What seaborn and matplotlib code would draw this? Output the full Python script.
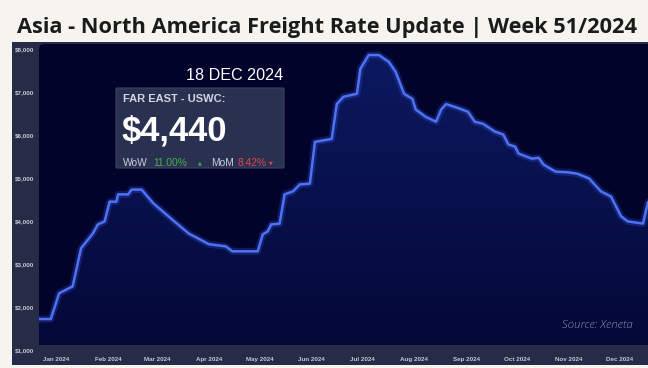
import numpy as np
import pandas as pd
import matplotlib
matplotlib.use("Agg")
import matplotlib.pyplot as plt
import matplotlib.dates as mdates
from matplotlib.patches import FancyBboxPatch, Rectangle
from matplotlib.colors import LinearSegmentedColormap
from matplotlib.transforms import IdentityTransform
import seaborn as sns

# ---------------- data ----------------
dates = ["2023-12-22", "2023-12-29", "2024-01-03", "2024-01-11", "2024-01-16",
         "2024-01-23", "2024-01-26", "2024-01-30", "2024-02-02", "2024-02-06",
         "2024-02-07", "2024-02-13", "2024-02-15", "2024-02-21", "2024-02-28",
         "2024-03-13", "2024-03-20", "2024-04-01", "2024-04-11", "2024-04-15",
         "2024-04-30", "2024-05-03", "2024-05-06", "2024-05-08", "2024-05-13",
         "2024-05-16", "2024-05-21", "2024-05-25", "2024-05-31", "2024-06-03",
         "2024-06-13", "2024-06-16", "2024-06-20", "2024-06-28", "2024-06-30",
         "2024-07-05", "2024-07-11", "2024-07-17", "2024-07-21", "2024-07-26",
         "2024-07-31", "2024-08-02", "2024-08-08", "2024-08-14", "2024-08-17",
         "2024-08-20", "2024-08-27", "2024-09-02", "2024-09-06", "2024-09-11",
         "2024-09-18", "2024-09-23", "2024-09-26", "2024-09-30", "2024-10-02",
         "2024-10-10", "2024-10-14", "2024-10-17", "2024-10-24", "2024-11-01",
         "2024-11-06", "2024-11-13", "2024-11-20", "2024-11-26", "2024-12-02",
         "2024-12-06", "2024-12-15", "2024-12-18"]
rates = [1720, 1720, 2320, 2480, 3365,
         3710, 3920, 3990, 4450, 4450,
         4620, 4620, 4730, 4730, 4410,
         3940, 3710, 3460, 3410, 3295,
         3295, 3690, 3760, 3920, 3940,
         4620, 4690, 4850, 4870, 5840,
         5910, 6720, 6890, 6960, 7540,
         7860, 7860, 7700, 7470, 6960,
         6840, 6590, 6420, 6310, 6590,
         6720, 6630, 6540, 6310, 6260,
         6080, 6010, 5780, 5730, 5570,
         5450, 5470, 5310, 5150, 5130,
         5100, 4990, 4690, 4570, 4110,
         3990, 3940, 4440]

month_ticks = list(pd.date_range("2024-01-01", "2024-12-01", freq="MS"))
month_labels = ["Jan 2024", "Feb 2024", "Mar 2024", "Apr 2024", "May 2024", "Jun 2024",
                "Jul 2024", "Aug 2024", "Sep 2024", "Oct 2024", "Nov 2024", "Dec 2024"]
y_ticks = [1000, 2000, 3000, 4000, 5000, 6000, 7000, 8000]
y_labels = ["$1,000", "$2,000", "$3,000", "$4,000", "$5,000", "$6,000", "$7,000", "$8,000"]

title = "Asia - North America Freight Rate Update | Week 51/2024"
route = "FAR EAST - USWC:"
latest_date = "18 DEC 2024"
latest_rate = "$4,440"
wow_label, wow_value = "WoW", "11.00%"
mom_label, mom_value = "MoM", "8.42%"
source = "Source: Xeneta"

df = pd.DataFrame({"date": pd.to_datetime(dates), "rate": rates})

# ---------------- figure ----------------
W, H = 648, 368
sns.set_style("dark")
plt.rcParams['font.family'] = ['Liberation Sans', 'DejaVu Sans']
fig = plt.figure(figsize=(W / 100, H / 100), dpi=100)
fig.patch.set_facecolor('#f5f4ef')


def fx(x):
    return x / W


def fy(y):
    return 1 - y / H


# outer panel
fig.add_artist(Rectangle((12, H - 365), 650 - 12, 365 - 42, transform=IdentityTransform(),
                         facecolor='#262c48', edgecolor='none', zorder=0))
# inner plot area (rounded)
fig.add_artist(FancyBboxPatch((39, H - 345), 650 - 39 + 10, 345 - 44,
                              boxstyle="round,pad=0,rounding_size=5",
                              transform=IdentityTransform(),
                              facecolor='#01032a', edgecolor='none', zorder=0))

ax = fig.add_axes([fx(39), fy(350), (648 - 39) / W, (350 - 49) / H])
ax.set_facecolor('none')
ax.set_zorder(1)

xmin, xmax = pd.Timestamp("2023-12-22"), pd.Timestamp("2024-12-18")
fill_bottom = 1116

# gradient fill under the line
poly = ax.fill_between(df["date"], df["rate"], fill_bottom, color='none', lw=0)
xnum = mdates.date2num(df["date"])
grad = np.linspace(0, 1, 256).reshape(-1, 1)
cmap = LinearSegmentedColormap.from_list('g', ['#040837', '#0c1960'])
im = ax.imshow(grad, aspect='auto', cmap=cmap, origin='lower',
               extent=[xnum[0] - 2, xnum[-1] + 2, fill_bottom, 7900], zorder=1)
im.set_clip_path(poly.get_paths()[0], transform=ax.transData)

# glow + line
sns.lineplot(data=df, x="date", y="rate", ax=ax, color='#2f4fd8', lw=5, alpha=0.3, zorder=2)
sns.lineplot(data=df, x="date", y="rate", ax=ax, color='#5072f2', lw=1.8, zorder=3)

ax.set_xlim(xmin, xmax)
ax.set_ylim(1000, 8000)
ax.set_xlabel("")
ax.set_ylabel("")
ax.grid(False)
for s in ax.spines.values():
    s.set_visible(False)

ax.set_yticks(y_ticks, y_labels)
ax.set_xticks(month_ticks, month_labels)
ax.tick_params(axis='both', length=0, colors='#c3c7d6', labelsize=4.5)
ax.tick_params(axis='y', pad=17.3)
ax.tick_params(axis='x', pad=5)
for lbl in ax.get_yticklabels():
    lbl.set_ha('left')
    lbl.set_fontweight('bold')
for lbl in ax.get_xticklabels():
    lbl.set_fontweight('bold')

# ---------------- texts ----------------
t_title = fig.text(fx(327), fy(33), title, ha='center', va='baseline',
                   fontsize=15, fontweight='bold', color='#1b1b1b',
                   family=['Open Sans', 'DejaVu Sans'])

t_date = fig.text(fx(186), fy(80), latest_date, ha='left', va='baseline',
                  fontsize=12, color='white', zorder=6)

fig.add_artist(FancyBboxPatch((116, H - 168), 284 - 116, 168 - 88,
                              boxstyle="round,pad=0,rounding_size=1",
                              transform=IdentityTransform(),
                              facecolor='#2d3352', edgecolor='#3e4565', lw=0.8,
                              alpha=0.95, zorder=5))

t_route = fig.text(fx(123), fy(102), route, ha='left', va='baseline',
                   fontsize=8, fontweight='bold', color='#d2d6e2', zorder=6)
t_rate = fig.text(fx(122), fy(141), latest_rate, ha='left', va='baseline',
                  fontsize=23, fontweight='bold', color='white', zorder=6)

row_y = fy(165.5)
fs_row = 7.4
fig.text(fx(123), row_y, wow_label, ha='left', va='baseline', fontsize=fs_row,
         color='#c8ccda', zorder=6)
fig.text(fx(153), row_y, wow_value, ha='left', va='baseline', fontsize=fs_row,
         color='#45b04f', zorder=6)
fig.text(fx(198), row_y + 0.002, "\u25b2", ha='left', va='baseline', fontsize=3.5,
         color='#45b04f', zorder=6, family=['DejaVu Sans'])
fig.text(fx(211), row_y, mom_label, ha='left', va='baseline', fontsize=fs_row,
         color='#c8ccda', zorder=6)
fig.text(fx(237), row_y, mom_value, ha='left', va='baseline', fontsize=fs_row,
         color='#e0454a', zorder=6)
fig.text(fx(269), row_y + 0.002, "\u25bc", ha='left', va='baseline', fontsize=3.5,
         color='#e0454a', zorder=6, family=['DejaVu Sans'])

t_src = fig.text(fx(633), fy(328), source, ha='right', va='baseline',
                 fontsize=7.5, style='italic', fontweight='light', color='#8a90b4',
                 family=['Open Sans', 'DejaVu Sans'], zorder=6)

# fit text widths to the reference
fig.canvas.draw()
r = fig.canvas.get_renderer()
for t, target in [(t_title, 622), (t_date, 97), (t_rate, 106), (t_src, 70)]:
    w = t.get_window_extent(r).width
    t.set_fontsize(t.get_fontsize() * target / w)

fig.savefig("out.png", dpi=100, facecolor=fig.get_facecolor())
